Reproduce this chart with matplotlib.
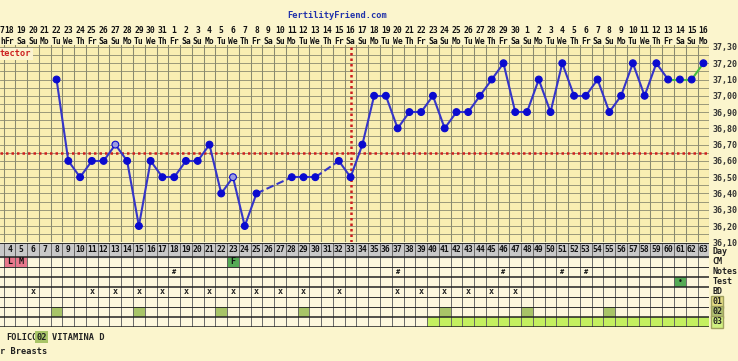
import numpy as np
import matplotlib
matplotlib.use("Agg")
from matplotlib import pyplot as plt

#### D A T A ####
cycle_days = list(range(4, 64))
dates = list(range(18, 32)) + list(range(1, 31)) + list(range(1, 17))
weekdays = ['Fr', 'Sa', 'Su', 'Mo', 'Tu', 'We', 'Th']

temp_days = [8, 9, 10, 11, 12, 13, 14, 15, 16, 17, 18, 19, 20, 21, 22, 23, 24, 25,
             28, 29, 30, 32, 33, 34, 35, 36, 37, 38, 39, 40, 41, 42, 43, 44, 45,
             46, 47, 48, 49, 50, 51, 52, 53, 54, 55, 56, 57, 58, 59, 60, 61, 62, 63]
temps = [37.10, 36.60, 36.50, 36.60, 36.60, 36.70, 36.60, 36.20, 36.60, 36.50, 36.50,
         36.60, 36.60, 36.70, 36.40, 36.50, 36.20, 36.40,
         36.50, 36.50, 36.50, 36.60, 36.50, 36.70, 37.00, 37.00, 36.80, 36.90, 36.90,
         37.00, 36.80, 36.90, 36.90, 37.00, 37.10, 37.20, 36.90, 36.90, 37.10, 36.90,
         37.20, 37.00, 37.00, 37.10, 36.90, 37.00, 37.20, 37.00, 37.20, 37.10, 37.10,
         37.10, 37.20]
open_days = [13, 23]
green_from = 60
coverline = 36.65
ovulation_day = 33

temp_ticks = [36.1, 36.2, 36.3, 36.4, 36.5, 36.6, 36.7, 36.8, 36.9, 37.0, 37.1, 37.2, 37.3]

cm_days = [4, 5, 23]
cm_codes = ['L', 'M', 'F']
notes_days = [18, 37, 46, 51, 53]
test_days = [61]
bd_days = [6, 11, 13, 15, 17, 19, 21, 23, 25, 27, 29, 32, 37, 39, 41, 43, 45, 47]
supp1_days = []
supp2_days = [8, 15, 22, 29, 41, 48, 55]
supp3_days = list(range(40, 64))

row_names = ['Day', 'CM', 'Notes', 'Test', 'BD', '01', '02', '03']
row_edges = [0, 14, 24, 34, 44, 54, 64, 74, 84]

#### C O L O U R S ####
page_bg = '#FBF5CD'
plot_bg = '#F9EEB2'
table_bg = '#FDF7DD'
grid_c = '#8A8A70'
blue = '#3535C8'
dot_blue = '#0A0ACF'
green_line = '#44BB44'
red = '#CC1F1F'
pink = '#E8788C'
cm_green = '#55AA55'
olive = '#A8C468'
lime = '#C4F060'

W, H = 738, 361
fig = plt.figure(figsize=(W / 100, H / 100), dpi=100)
fig.patch.set_facecolor(page_bg)
font = dict(family='DejaVu Sans Mono', weight='bold')


def px_axes(x0, y0, x1, y1):
    return fig.add_axes([x0 / W, 1 - y1 / H, (x1 - x0) / W, (y1 - y0) / H])


#### T E M P E R A T U R E _ C H A R T
ax = px_axes(0, 45, 709.3, 242.3)
ax.set_facecolor(plot_bg)
ax.set_xlim(3.19, 63.5)
ax.set_ylim(36.10, 37.312)
for s in ax.spines.values():
    s.set_visible(False)

for yv in np.arange(36.10, 37.32, 0.05):
    ax.axhline(yv, color=grid_c, lw=0.6, zorder=1)
for d in range(3, 64):
    ax.axvline(d + 0.5, color=grid_c, lw=0.75, zorder=1)

ax.axhline(coverline, color=red, lw=1.8, ls=(0, (1, 1.2)), zorder=2)
ax.axvline(ovulation_day, color=red, lw=1.8, ls=(0, (1, 1.2)), zorder=2)

for i in range(len(temp_days) - 1):
    d0, d1 = temp_days[i], temp_days[i + 1]
    ls = '--' if d1 - d0 > 1 else '-'
    col = green_line if d0 >= green_from else blue
    ax.plot([d0, d1], [temps[i], temps[i + 1]], color=col, lw=1.5, ls=ls, zorder=3)

fill = ['#9C9CE0' if d in open_days else dot_blue for d in temp_days]
ax.scatter(temp_days, temps, s=24, c=fill, edgecolors=dot_blue, linewidths=0.8, zorder=4)

ax.set_xticks([])
ax.yaxis.tick_right()
ax.set_yticks(temp_ticks)
ax.set_yticklabels([f"{t:.2f}".replace('.', ',') for t in temp_ticks], fontsize=6, color='#333333', **font)
ax.tick_params(axis='y', length=0, pad=2.5)

xt = ax.get_xaxis_transform()
# only the tail of day 3's labels shows at the left edge
ax.text(3.19, 1.076, '7', transform=xt, ha='left', va='center', fontsize=5.8,
        color='#111111', clip_on=False, **font)
ax.text(3.19, 1.020, 'h', transform=xt, ha='left', va='center', fontsize=5.8,
        color='#111111', clip_on=False, **font)
for i, d in enumerate(cycle_days):
    ax.text(d, 1.076, str(dates[i]), transform=xt, ha='center', va='center', fontsize=5.8,
            color='#111111', clip_on=False, **font)
    ax.text(d, 1.020, weekdays[(d - 4) % 7], transform=xt, ha='center', va='center',
            fontsize=5.8, color='#111111', clip_on=False, **font)

ax.text(3.19, 0.955, 'tector', transform=xt, ha='left', va='center', fontsize=6.2,
        color=red, zorder=5, bbox=dict(facecolor='#FBF3D0', edgecolor='none', pad=1.0), **font)

fig.text(337 / W, 1 - 16 / H, 'FertilityFriend.com', ha='center', va='center',
         fontsize=6.3, color='#2233AA', **font)

#### T A B L E _ R O W S
tb = px_axes(0, 243, 709.3, 327)
tb.set_facecolor(table_bg)
tb.set_xlim(3.19, 63.5)
tb.set_ylim(row_edges[-1], row_edges[0])
tb.set_xticks([])
tb.set_yticks([])
for s in tb.spines.values():
    s.set_visible(False)

tb.axhspan(row_edges[0], row_edges[1], color='#C8C8C8', zorder=0)
tb.bar(cm_days, 10, bottom=row_edges[1], width=1, color=[pink, pink, cm_green], zorder=1)
tb.bar(test_days, 10, bottom=row_edges[3], width=1, color=cm_green, zorder=1)
tb.bar(supp2_days, 10, bottom=row_edges[6], width=1, color=olive, zorder=1)
tb.bar(supp3_days, 10, bottom=row_edges[7], width=1, color=lime, zorder=1)

for d in range(3, 64):
    tb.axvline(d + 0.5, color='#606060', lw=0.65, zorder=2)
for k, e in enumerate(row_edges):
    tb.axhline(e, color='#222222', lw=1.1 if k in (1, 3, 4, 7, 8) else 0.65, zorder=2)

mid = [(row_edges[k] + row_edges[k + 1]) / 2 for k in range(len(row_names))]
for d in cycle_days:
    tb.text(d, mid[0], str(d), ha='center', va='center', fontsize=5.8, color='#111111', zorder=3, **font)
for d, c in zip(cm_days, cm_codes):
    tb.text(d, mid[1], c, ha='center', va='center', fontsize=6, color='#111111', zorder=3, **font)
for d in notes_days:
    tb.text(d, mid[2], '#', ha='center', va='center', fontsize=5, color='#111111', zorder=3, **font)
for d in test_days:
    tb.text(d, mid[3], '•', ha='center', va='center', fontsize=6, color='#111111', zorder=3)
for d in bd_days:
    tb.text(d, mid[4], 'x', ha='center', va='center', fontsize=6, color='#222222', zorder=3, **font)

yt = tb.get_yaxis_transform()
label_bg = {'01': '#E4DC84', '02': '#B0C070', '03': '#D0F080'}
for k, name in enumerate(row_names):
    box = None
    if name in label_bg:
        box = dict(facecolor=label_bg[name], edgecolor='#A0A060', pad=0.8)
    tb.text(1.0042, mid[k] + (1.5 if k == 0 else 0), name, transform=yt, ha='left', va='center',
            fontsize=6, color='#222222', clip_on=False, bbox=box, **font)

#### L E G E N D _ L I N E S
fig.text(6 / W, 1 - 337 / H, 'FOLICO', ha='left', va='center', fontsize=6.2, color='#222222', **font)
fig.text(36.5 / W, 1 - 337 / H, '02', ha='left', va='center', fontsize=6.2, color='#222222',
         bbox=dict(facecolor=olive, edgecolor='none', pad=1.0), **font)
fig.text(52 / W, 1 - 337 / H, 'VITAMINA D', ha='left', va='center', fontsize=6.2, color='#222222', **font)
fig.text(0 / W, 1 - 351 / H, 'r Breasts', ha='left', va='center', fontsize=6.2, color='#222222', **font)

plt.savefig('out.png', dpi=100, facecolor=page_bg)
